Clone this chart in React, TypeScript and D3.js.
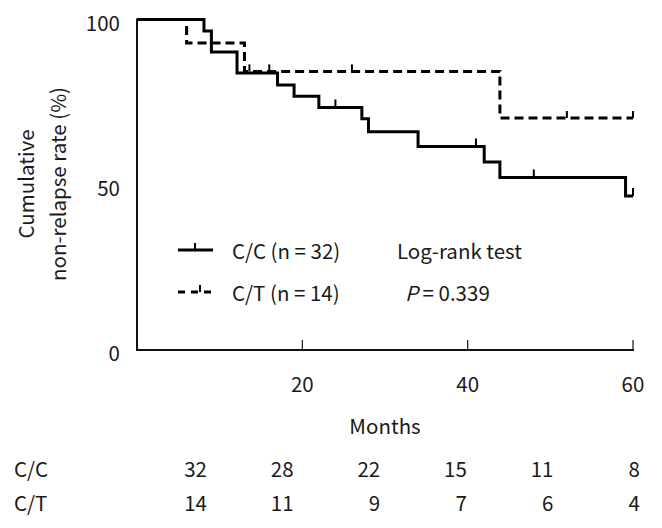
import React from "react";
import * as d3 from "d3";

// Kaplan–Meier steps: [month, survival %] after each drop
const ccSteps: [number, number][] = [
  [0, 100], [8.1, 96.5], [9.0, 90.2], [12.1, 83.8], [17, 80.2], [19, 76.8],
  [22, 73.4], [27.2, 70.0], [28, 66.0], [34, 61.6], [42, 56.9], [43.9, 52.2], [59.1, 46.6],
];
const ccEnd = 60;
const ccCensor = [24, 41, 48, 60];

const ctSteps: [number, number][] = [
  [0, 100], [6.0, 92.9], [13.0, 84.3], [43.9, 70.2],
];
const ctEnd = 60;
const ctCensor = [13.6, 16, 26, 52, 60];

const xTicks = [20, 40, 60];
const yTicks = [0, 50, 100];

const riskGroups = ["C/C", "C/T"];
const riskCC = [32, 28, 22, 15, 11, 8];
const riskCT = [14, 11, 9, 7, 6, 4];

const FONT = "'Noto Sans CJK KR', 'Noto Sans', sans-serif";

function stepPath(steps: [number, number][], end: number, x: any, y: any) {
  const pts: [number, number][] = [];
  steps.forEach(([t, s], i) => {
    if (i > 0) pts.push([x(t), y(steps[i - 1][1])]);
    pts.push([x(t), y(s)]);
  });
  pts.push([x(end), y(steps[steps.length - 1][1])]);
  return d3.line()(pts) as string;
}

function survAt(steps: [number, number][], t: number) {
  let s = 100;
  for (const [tt, ss] of steps) if (tt <= t) s = ss;
  return s;
}

export default function App() {
  const W = 662, H = 528;
  const x = d3.scaleLinear().domain([0, 60]).range([137, 633]);
  const y = d3.scaleLinear().domain([0, 100]).range([350, 19.5]);
  const riskX = d3.scaleLinear().domain([0, 5]).range([207, 640]);
  const fs = 20.5;
  const col = "#1a1a1a";

  return (
    <svg width={W} height={H} style={{ position: "absolute", left: 0, top: 0, background: "#fff" }}>
      <rect width={W} height={H} fill="#fff" />
      {/* axes */}
      <line x1={x(0)} x2={x(0)} y1={y(100) - 1} y2={y(0) + 1} stroke="#111" strokeWidth={2} />
      <line x1={x(0) - 1} x2={x(60) + 1} y1={y(0)} y2={y(0)} stroke="#111" strokeWidth={2} />
      {xTicks.map((t) => (
        <g key={t}>
          <line x1={x(t)} x2={x(t)} y1={y(0)} y2={y(0) - 10} stroke="#111" strokeWidth={1.2} />
          <text x={x(t)} y={383} textAnchor="middle" dominantBaseline="central" fontSize={fs} fontFamily={FONT} fill={col}>{t}</text>
        </g>
      ))}
      {yTicks.map((t) => (
        <text key={t} x={120} y={y(t) + 2} textAnchor="end" dominantBaseline="central" fontSize={fs} fontFamily={FONT} fill={col}>{t}</text>
      ))}
      <text transform="translate(25,184) rotate(-90)" textAnchor="middle" dominantBaseline="central" fontSize={fs} fontFamily={FONT} fill={col}>Cumulative</text>
      <text transform="translate(57,184) rotate(-90)" textAnchor="middle" dominantBaseline="central" fontSize={fs} fontFamily={FONT} fill={col}>non-relapse rate (%)</text>
      <text x={385} y={425} textAnchor="middle" dominantBaseline="central" fontSize={fs} fontFamily={FONT} fill={col}>Months</text>

      {/* curves */}
      <path d={stepPath(ctSteps, ctEnd, x, y)} fill="none" stroke="#000" strokeWidth={3} strokeDasharray="9,5" />
      {ctCensor.map((t) => (
        <line key={"ct" + t} x1={x(t)} x2={x(t)} y1={y(survAt(ctSteps, t))} y2={y(survAt(ctSteps, t)) - 7} stroke="#000" strokeWidth={2} />
      ))}
      <path d={stepPath(ccSteps, ccEnd, x, y)} fill="none" stroke="#000" strokeWidth={3} />
      {ccCensor.map((t) => (
        <line key={"cc" + t} x1={x(t)} x2={x(t)} y1={y(survAt(ccSteps, t))} y2={y(survAt(ccSteps, t)) - 8} stroke="#000" strokeWidth={2} />
      ))}

      {/* legend */}
      <line x1={178} x2={213} y1={250} y2={250} stroke="#000" strokeWidth={3} />
      <line x1={195} x2={195} y1={250} y2={243} stroke="#000" strokeWidth={2} />
      <text x={232} y={250} dominantBaseline="central" fontSize={fs} fontFamily={FONT} fill={col}>C/C (n = 32)</text>
      <line x1={178} x2={213} y1={292} y2={292} stroke="#000" strokeWidth={3} strokeDasharray="7,6" />
      <line x1={200} x2={200} y1={292} y2={285} stroke="#000" strokeWidth={2} />
      <text x={232} y={292} dominantBaseline="central" fontSize={fs} fontFamily={FONT} fill={col}>C/T (n = 14)</text>
      <text x={397} y={250} dominantBaseline="central" fontSize={fs} fontFamily={FONT} fill={col}>Log-rank test</text>
      <text x={405} y={292} dominantBaseline="central" fontSize={fs} fontFamily={FONT} fill={col}>
        <tspan fontStyle="italic">P</tspan> = 0.339
      </text>

      {/* risk table */}
      {riskGroups.map((g, gi) => (
        <text key={g} x={14} y={468 + gi * 34} dominantBaseline="central" fontSize={fs} fontFamily={FONT} fill={col}>{g}</text>
      ))}
      {riskCC.map((v, i) => (
        <text key={"rc" + i} x={riskX(i)} y={468} textAnchor="end" dominantBaseline="central" fontSize={fs} fontFamily={FONT} fill={col}>{v}</text>
      ))}
      {riskCT.map((v, i) => (
        <text key={"rt" + i} x={riskX(i)} y={502} textAnchor="end" dominantBaseline="central" fontSize={fs} fontFamily={FONT} fill={col}>{v}</text>
      ))}
    </svg>
  );
}
